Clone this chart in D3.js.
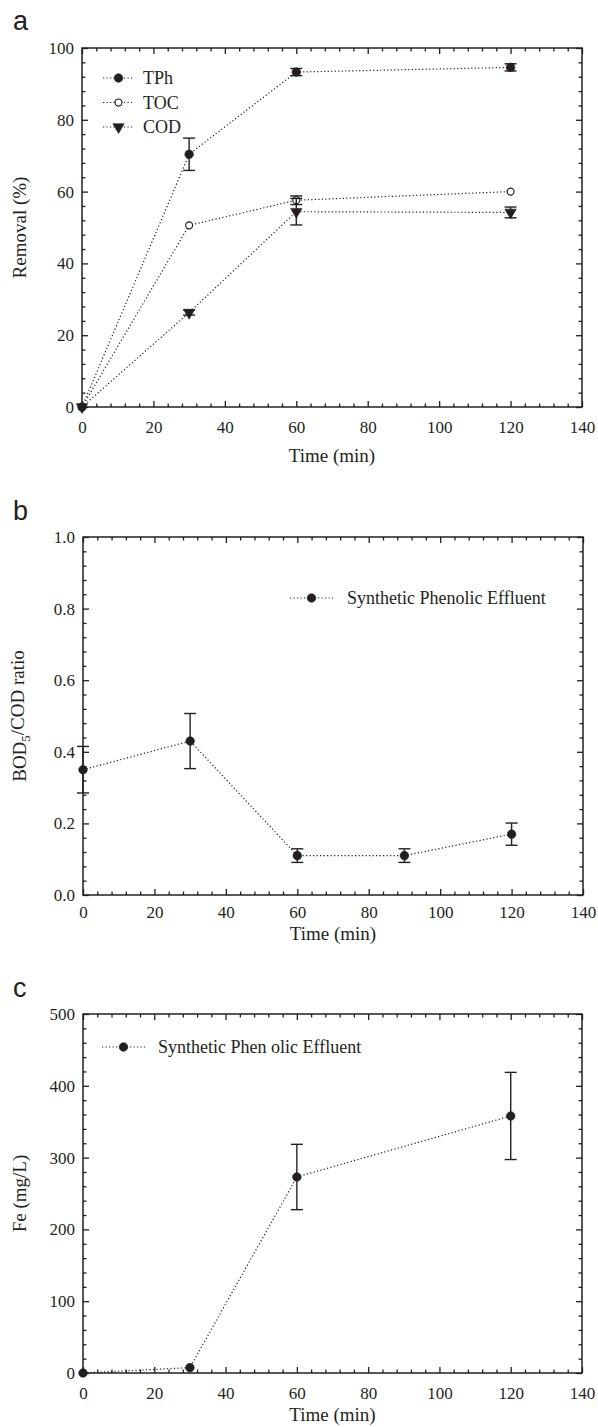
<!DOCTYPE html>
<html>
<head>
<meta charset="utf-8">
<script src="https://cdn.jsdelivr.net/npm/d3@7"></script>
<style>
body{margin:0;background:#fff;}
svg{display:block;}
text{font-family:"Liberation Serif","Times New Roman",serif;fill:#231f20;}
</style>
</head>
<body>
<svg id="fig" width="598" height="1427"></svg>
<script>
// shared x ticks
var timeTicks = [0,20,40,60,80,100,120,140];

// panel a : removal
var timeA = [0,30,60,120];
var tphRemoval = [0,70.4,93.3,94.6];
var tphErr = [0,4.5,1.0,1.0];
var tocRemoval = [0,50.6,57.6,60.0];
var tocErr = [0,0,1.2,0];
var codRemoval = [0,26.3,54.4,54.2];
var codErr = [0,0.7,3.7,1.5];
var removalTicks = [0,20,40,60,80,100];

// panel b : BOD5/COD
var timeB = [0,30,60,90,120];
var bodCodRatio = [0.35,0.43,0.11,0.11,0.17];
var bodCodErr = [0.065,0.077,0.019,0.019,0.031];
var ratioTicks = [0,0.2,0.4,0.6,0.8,1.0];

// panel c : Fe
var timeC = [0,30,60,120];
var feConc = [0,7.5,273,358];
var feErr = [0,0,45.5,60.7];
var feTicks = [0,100,200,300,400,500];

var svg = d3.select("#fig");
var ink = "#231f20";
var serif = "'Liberation Serif','Times New Roman',serif";

function symbolPath(kind){
	if(kind=="tri") return d3.symbol().type(d3.symbolTriangle).size(56)();
	return d3.symbol().type(d3.symbolCircle).size(kind=="open"?38:58)();
}
function styleMarker(sel,kind){
	sel.attr("d",symbolPath(kind))
		.attr("fill",kind=="open"?"#fff":ink)
		.attr("stroke",ink)
		.attr("stroke-width",kind=="open"?1.2:0.6);
}

function drawPanel(o){
	var g = svg.append("g");
	var x = d3.scaleLinear().domain([0,140]).range([o.left,o.right]);
	var y = d3.scaleLinear().domain([0,o.yMax]).range([o.bottom,o.top]);

	var minorX = d3.range(0,141,4).filter(function(v){return v%20!=0;});
	var minorY = d3.range(0,o.yMax*1.0001,o.yMax/25).filter(function(v,i){return i%5!=0;});

	function addAxis(axisFn,scale,major,minor,tx,ty,labels,pad){
		var a = g.append("g").attr("transform","translate("+tx+","+ty+")")
			.call(axisFn(scale).tickValues(major).tickSizeInner(-6).tickSizeOuter(0)
				.tickPadding(pad||0).tickFormat(labels?labels:""));
		var m = g.append("g").attr("transform","translate("+tx+","+ty+")")
			.call(axisFn(scale).tickValues(minor).tickSizeInner(-3.5).tickSizeOuter(0).tickFormat(""));
		[a,m].forEach(function(s){
			s.attr("font-family",null).attr("font-size",null);
			s.select(".domain").remove();
			s.selectAll("line").attr("stroke",ink).attr("stroke-width",1.3);
		});
		a.selectAll("text")
			.style("font-family",serif)
			.style("font-size","17px")
			.attr("fill",ink);
		return a;
	}
	addAxis(d3.axisBottom,x,timeTicks,minorX,0,o.bottom,d3.format("d"),o.xPad);
	addAxis(d3.axisTop,x,timeTicks,minorX,0,o.top,null);
	addAxis(d3.axisLeft,y,o.yTicks,minorY,o.left,0,o.yFormat,8);
	addAxis(d3.axisRight,y,o.yTicks,minorY,o.right,0,null);

	g.append("rect")
		.attr("x",o.left).attr("y",o.top)
		.attr("width",o.right-o.left).attr("height",o.bottom-o.top)
		.attr("fill","none").attr("stroke",ink).attr("stroke-width",1.5);

	// axis titles
	g.append("text")
		.attr("x",(o.left+o.right)/2).attr("y",o.bottom+o.xTitleGap)
		.attr("text-anchor","middle").attr("font-size",19)
		.text("Time (min)");
	var yt = g.append("text")
		.attr("transform","translate(26,"+((o.top+o.bottom)/2)+") rotate(-90)")
		.attr("text-anchor","middle").attr("font-size",19);
	o.yTitle(yt);

	// panel letter
	svg.append("text")
		.attr("x",13).attr("y",o.letterY)
		.style("font-family","'Liberation Sans',Arial,sans-serif")
		.attr("font-size",27).text(o.letter);

	var line = d3.line()
		.x(function(d){return x(d[0]);})
		.y(function(d){return y(d[1]);});

	o.series.forEach(function(s){
		var pts = s.x.map(function(t,i){return [t,s.y[i],s.err[i]];});
		g.append("path")
			.datum(pts)
			.attr("d",line)
			.attr("fill","none")
			.attr("stroke",ink)
			.attr("stroke-width",1.2)
			.attr("stroke-dasharray","1.2,2.3");

		var eb = g.selectAll(null)
			.data(pts.filter(function(d){return d[2]>0;}))
			.enter().append("g")
			.attr("stroke",ink).attr("stroke-width",1.4);
		eb.append("line")
			.attr("x1",function(d){return x(d[0]);}).attr("x2",function(d){return x(d[0]);})
			.attr("y1",function(d){return y(d[1]-d[2]);}).attr("y2",function(d){return y(d[1]+d[2]);});
		[-1,1].forEach(function(k){
			eb.append("line")
				.attr("x1",function(d){return x(d[0])-6;}).attr("x2",function(d){return x(d[0])+6;})
				.attr("y1",function(d){return y(d[1]+k*d[2]);}).attr("y2",function(d){return y(d[1]+k*d[2]);});
		});

		g.selectAll(null)
			.data(pts)
			.enter().append("path")
			.call(styleMarker,s.symbol)
			.attr("transform",function(d){
				return "translate("+x(d[0])+","+y(d[1])+")"+(s.symbol=="tri"?" rotate(180)":"");
			});
	});

	// legend
	var L = o.legend;
	o.series.forEach(function(s,i){
		var ly = L.y + i*L.step;
		g.append("line")
			.attr("x1",L.x0).attr("x2",L.x1).attr("y1",ly).attr("y2",ly)
			.attr("stroke",ink).attr("stroke-width",1.1).attr("stroke-dasharray","1.2,2.3");
		g.append("path").call(styleMarker,s.symbol)
			.attr("transform","translate("+((L.x0+L.x1)/2)+","+ly+")"+(s.symbol=="tri"?" rotate(180)":""));
		g.append("text")
			.attr("x",L.tx).attr("y",ly).attr("dy","0.35em")
			.attr("font-size",18).text(s.name);
	});
}

drawPanel({
	left:82, right:582, top:48, bottom:407,
	yMax:100, yTicks:removalTicks, yFormat:d3.format("d"),
	xPad:14, xTitleGap:55,
	letter:"a", letterY:30,
	yTitle:function(t){t.text("Removal (%)");},
	series:[
		{name:"TPh", x:timeA, y:tphRemoval, err:tphErr, symbol:"fill"},
		{name:"TOC", x:timeA, y:tocRemoval, err:tocErr, symbol:"open"},
		{name:"COD", x:timeA, y:codRemoval, err:codErr, symbol:"tri"}
	],
	legend:{x0:103, x1:134, tx:143, y:78, step:24.5}
});

drawPanel({
	left:83, right:583, top:537, bottom:895,
	yMax:1.0, yTicks:ratioTicks, yFormat:d3.format(".1f"),
	xPad:11, xTitleGap:45,
	letter:"b", letterY:520,
	yTitle:function(t){
		t.append("tspan").text("BOD");
		t.append("tspan").attr("font-size",13).attr("dy","0.3em").text("5");
		t.append("tspan").attr("dy","-0.3em").text("/COD ratio");
	},
	series:[
		{name:"Synthetic Phenolic Effluent", x:timeB, y:bodCodRatio, err:bodCodErr, symbol:"fill"}
	],
	legend:{x0:290, x1:333, tx:347, y:598, step:0}
});

drawPanel({
	left:83, right:582, top:1014, bottom:1373,
	yMax:500, yTicks:feTicks, yFormat:d3.format("d"),
	xPad:14, xTitleGap:48,
	letter:"c", letterY:997,
	yTitle:function(t){t.text("Fe (mg/L)");},
	series:[
		{name:"Synthetic Phen olic Effluent", x:timeC, y:feConc, err:feErr, symbol:"fill"}
	],
	legend:{x0:102, x1:145, tx:158, y:1047, step:0}
});
</script>
</body>
</html>
